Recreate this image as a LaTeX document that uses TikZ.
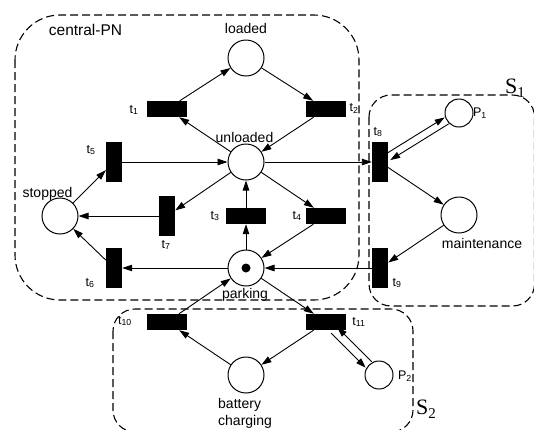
\documentclass[tikz,border=0pt]{standalone}
\usepackage{fontspec}
\setmainfont{Liberation Sans}
\newfontfamily\serifS{Liberation Serif}
\usetikzlibrary{arrows.meta}
\begin{document}
\begin{tikzpicture}[x=1pt,y=-1pt,
  place/.style={circle,draw,line width=1pt,minimum size=36pt,inner sep=0pt},
  smallplace/.style={place,minimum size=28pt},
  htrans/.style={rectangle,fill=black,minimum width=40pt,minimum height=16pt,inner sep=0pt},
  vtrans/.style={rectangle,fill=black,minimum width=16pt,minimum height=40pt,inner sep=0pt},
  token/.style={circle,fill=black,minimum size=9pt,inner sep=0pt},
  arc/.style={line width=0.9pt,-{Triangle[length=10pt,width=6.5pt]}},
  region/.style={draw,dash pattern=on 8pt off 4pt,line width=1.1pt},
  lbl/.style={inner sep=0pt,font=\fontsize{14}{16}\selectfont},
  tlbl/.style={inner sep=0pt,font=\fontsize{12.5}{14}\selectfont},
  slbl/.style={inner sep=0pt,anchor=base west,font=\serifS\fontsize{22}{24}\selectfont},
]
\useasboundingbox (0,0) rectangle (534,429);

% subnet regions
\draw[region,rounded corners=45pt] (15,15) rectangle (359,300);
\draw[region,rounded corners=22pt] (369,95) rectangle (534.5,306);
\draw[region,rounded corners=22pt] (113,309) rectangle (413,432);

% places
\node[place] (loaded)   at (246,58)  {};
\node[place] (unloaded) at (246,162) {};
\node[place] (stopped)  at (60,216)  {};
\node[place] (parking)  at (246,268) {};
\node[token] (tok)      at (246,268) {};
\node[place] (maint)    at (459,215) {};
\node[place] (battery)  at (246,375) {};
\node[smallplace] (P1)  at (459,113) {};
\node[smallplace] (P2)  at (379,375) {};

% transitions
\node[htrans] (t1)  at (167,109) {};
\node[htrans] (t2)  at (326,109) {};
\node[vtrans] (t5)  at (114,162) {};
\node[vtrans] (t7)  at (167,216) {};
\node[htrans] (t3)  at (246,216) {};
\node[htrans] (t4)  at (326,216) {};
\node[vtrans] (t6)  at (114,268) {};
\node[vtrans] (t8)  at (380,162) {};
\node[vtrans] (t9)  at (380,268) {};
\node[htrans] (t10) at (167,322) {};
\node[htrans] (t11) at (326,322) {};

% arcs of the central net
\draw[arc] (unloaded) -- (t1);
\draw[arc] (t1) -- (loaded);
\draw[arc] (loaded) -- (t2);
\draw[arc] (t2) -- (unloaded);
\draw[arc] (t5) -- (unloaded);
\draw[arc] (stopped) -- (t5);
\draw[arc] (unloaded) -- (t7);
\draw[arc] (t7) -- (stopped);
\draw[arc] (parking) -- (t3);
\draw[arc] (t3) -- (unloaded);
\draw[arc] (unloaded) -- (t4);
\draw[arc] (t4) -- (parking);
\draw[arc] (parking) -- (t6);
\draw[arc] (t6) -- (stopped);

% arcs of S1
\draw[arc] (unloaded) -- (t8);
\draw[arc,transform canvas={shift={(-2,-3.2)}}] (t8) -- (P1);
\draw[arc,transform canvas={shift={(2,3.2)}}] (P1) -- (t8);
\draw[arc] (t8) -- (maint);
\draw[arc] (maint) -- (t9);
\draw[arc] (t9) -- (parking);

% arcs of S2
\draw[arc] (t10) -- (parking);
\draw[arc] (battery) -- (t10);
\draw[arc] (parking) -- (t11);
\draw[arc] (t11) -- (battery);
\draw[arc,transform canvas={shift={(-3,3)}}] (t11) -- (P2);
\draw[arc,transform canvas={shift={(3,-3)}}] (P2) -- (t11);

% place labels
\node[lbl,anchor=base,font=\fontsize{15.5}{18}\selectfont] (lcpn) at (85.5,35) {central-PN};
\node[lbl,anchor=base] (lloaded)   at (246,33)   {loaded};
\node[lbl,anchor=base] (lunloaded) at (244.5,142) {unloaded};
\node[lbl,anchor=base] (lstopped)  at (47.5,197) {stopped};
\node[lbl,anchor=base] (lparking)  at (245,298)  {parking};
\node[lbl,anchor=base] (lmaint)    at (482,248)  {maintenance};
\node[lbl,anchor=base west] (lbat1) at (218,408) {battery};
\node[lbl,anchor=base west] (lbat2) at (218,425) {charging};

% transition and resource labels
\node[tlbl] (lt1)  at (134,110) {t\textsubscript{1}};
\node[tlbl] (lt2)  at (354,108) {t\textsubscript{2}};
\node[tlbl] (lt5)  at (91,150)  {t\textsubscript{5}};
\node[tlbl] (lt7)  at (166,245) {t\textsubscript{7}};
\node[tlbl] (lt3)  at (215,216) {t\textsubscript{3}};
\node[tlbl] (lt4)  at (297,216) {t\textsubscript{4}};
\node[tlbl] (lt6)  at (90,283)  {t\textsubscript{6}};
\node[tlbl] (lt8)  at (378,132) {t\textsubscript{8}};
\node[tlbl] (lt9)  at (397,283) {t\textsubscript{9}};
\node[tlbl] (lt10) at (125,321) {t\textsubscript{10}};
\node[tlbl] (lt11) at (359,322) {t\textsubscript{11}};
\node[tlbl] (lP1)  at (480,113) {P\textsubscript{1}};
\node[tlbl] (lP2)  at (405,376) {P\textsubscript{2}};

% subnet names
\node[slbl] (lS1) at (505,93)  {S\raisebox{-4pt}{\fontsize{15}{16}\selectfont 1}};
\node[slbl] (lS2) at (416,414) {S\raisebox{-4pt}{\fontsize{15}{16}\selectfont 2}};
\end{tikzpicture}
\end{document}
